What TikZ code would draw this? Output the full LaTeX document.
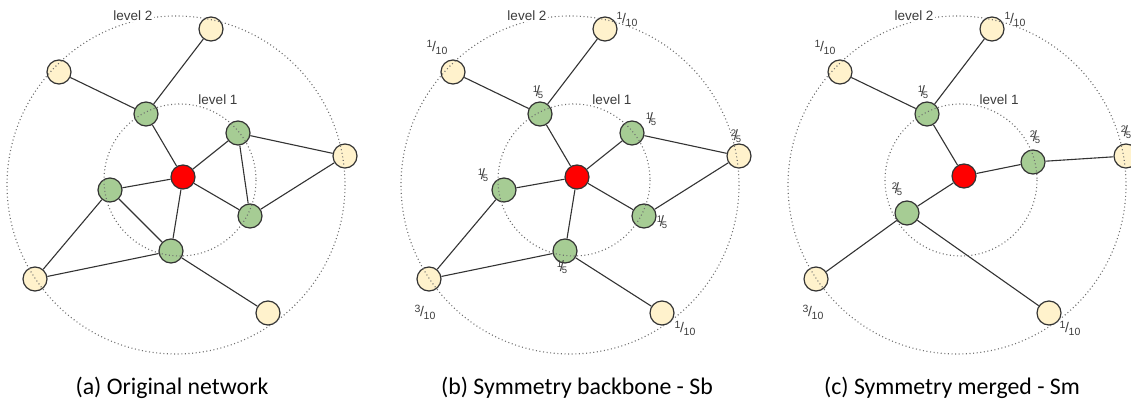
\documentclass[tikz,border=0pt]{standalone}
\usepackage{fontspec}
\usepackage{xcolor}
\usepackage{tikz}
\newfontfamily\capfont{Carlito}
\newfontfamily\lblfont{Liberation Sans}
\definecolor{nodegreen}{RGB}{166,204,148}
\definecolor{nodeyellow}{RGB}{255,242,204}
\definecolor{rootred}{RGB}{255,0,0}
\definecolor{linegray}{RGB}{51,51,51}
\definecolor{textgray}{RGB}{60,60,60}
\definecolor{ringgray}{RGB}{110,110,110}
% share labels: 1/10 style and 1/5 style
\newcommand{\tenths}[1]{\raisebox{4pt}{\fontsize{10.5}{11}\selectfont #1}\kern-0.3pt{\fontsize{14}{14}\selectfont/}\kern-0.3pt\raisebox{-3pt}{\fontsize{10.5}{11}\selectfont 10}}
\newcommand{\fifths}[1]{\raisebox{3.5pt}{\fontsize{9.5}{10}\selectfont #1}\kern-2.2pt{\fontsize{15}{15}\selectfont/}\kern-2.2pt\raisebox{-2pt}{\fontsize{9.5}{10}\selectfont 5}}

\begin{document}
\begin{tikzpicture}[x=1pt, y=-1pt,
      vtx/.style={circle, draw=linegray, line width=1.2pt, minimum size=24pt, inner sep=0pt},
      hub/.style={vtx, fill=rootred},
      near/.style={vtx, fill=nodegreen},
      far/.style={vtx, fill=nodeyellow},
      link/.style={draw=linegray, line width=1.1pt},
      ring/.style={draw=ringgray, line width=1.1pt, dash pattern=on 1pt off 2.6pt},
      lvl/.style={font=\lblfont\fontsize{13.5}{14}\selectfont, text=textgray, fill=white, inner sep=1pt},
      share/.style={font=\lblfont, text=textgray, inner sep=0pt},
      subcap/.style={font=\capfont\fontsize{23.8}{28}\selectfont}]
    \useasboundingbox (0,0) rectangle (1131,406);

    % (a) original network
    \node[hub] (a-r) at (183,177) {};
    \node[far] (a-yt) at (211,29) {};
    \node[far] (a-yl) at (59,72) {};
    \node[near] (a-gu) at (146,114) {};
    \node[near] (a-gru) at (238,133) {};
    \node[far] (a-yr) at (345,156) {};
    \node[near] (a-gl) at (110,190) {};
    \node[near] (a-grl) at (250,216) {};
    \node[near] (a-gb) at (171,251) {};
    \node[far] (a-ybl) at (35,279) {};
    \node[far] (a-ybr) at (268,313) {};
    \draw[link] (a-yt) -- (a-gu);
    \draw[link] (a-yl) -- (a-gu);
    \draw[link] (a-gu) -- (a-r);
    \draw[link] (a-r) -- (a-gru);
    \draw[link] (a-gru) -- (a-yr);
    \draw[link] (a-gru) -- (a-grl);
    \draw[link] (a-r) -- (a-grl);
    \draw[link] (a-grl) -- (a-yr);
    \draw[link] (a-r) -- (a-gl);
    \draw[link] (a-r) -- (a-gb);
    \draw[link] (a-gl) -- (a-ybl);
    \draw[link] (a-gl) -- (a-gb);
    \draw[link] (a-gb) -- (a-ybl);
    \draw[link] (a-gb) -- (a-ybr);

    % (b) symmetry backbone
    \begin{scope}[xshift=394pt]
    \node[hub] (b-r) at (183,177) {};
    \node[far] (b-yt) at (211,29) {};
    \node[far] (b-yl) at (59,72) {};
    \node[near] (b-gu) at (146,114) {};
    \node[near] (b-gru) at (238,133) {};
    \node[far] (b-yr) at (345,156) {};
    \node[near] (b-gl) at (110,190) {};
    \node[near] (b-grl) at (250,216) {};
    \node[near] (b-gb) at (171,251) {};
    \node[far] (b-ybl) at (35,279) {};
    \node[far] (b-ybr) at (268,313) {};
    \draw[link] (b-yt) -- (b-gu);
    \draw[link] (b-yl) -- (b-gu);
    \draw[link] (b-gu) -- (b-r);
    \draw[link] (b-r) -- (b-gru);
    \draw[link] (b-gru) -- (b-yr);
    \draw[link] (b-r) -- (b-grl);
    \draw[link] (b-grl) -- (b-yr);
    \draw[link] (b-r) -- (b-gl);
    \draw[link] (b-r) -- (b-gb);
    \draw[link] (b-gl) -- (b-ybl);
    \draw[link] (b-gb) -- (b-ybl);
    \draw[link] (b-gb) -- (b-ybr);
    \node[share] (b-yt-s) at (233,19) {\tenths{1}};
    \node[share] (b-yl-s) at (43,47) {\tenths{1}};
    \node[share] (b-gu-s) at (144,92) {\fifths{1}};
    \node[share] (b-gru-s) at (257,119) {\fifths{1}};
    \node[share] (b-yr-s) at (342,136) {\fifths{2}};
    \node[share] (b-gl-s) at (89,175) {\fifths{1}};
    \node[share] (b-grl-s) at (268,222) {\fifths{1}};
    \node[share] (b-gb-s) at (168,267) {\fifths{1}};
    \node[share] (b-ybl-s) at (31,312) {\tenths{3}};
    \node[share] (b-ybr-s) at (291,328) {\tenths{1}};
    \end{scope}

    % (c) symmetry merged
    \begin{scope}[xshift=781pt]
    \node[hub] (c-r) at (183,176) {};
    \node[far] (c-yt) at (211,29) {};
    \node[far] (c-yl) at (59,72) {};
    \node[near] (c-gu) at (146,114) {};
    \node[near] (c-gr) at (252,162) {};
    \node[far] (c-yr) at (345,156) {};
    \node[near] (c-gll) at (126,213) {};
    \node[far] (c-ybl) at (35,279) {};
    \node[far] (c-ybr) at (268,313) {};
    \draw[link] (c-yt) -- (c-gu);
    \draw[link] (c-yl) -- (c-gu);
    \draw[link] (c-gu) -- (c-r);
    \draw[link] (c-r) -- (c-gr);
    \draw[link] (c-gr) -- (c-yr);
    \draw[link] (c-r) -- (c-gll);
    \draw[link] (c-gll) -- (c-ybl);
    \draw[link] (c-gll) -- (c-ybr);
    \node[share] (c-yt-s) at (234,19) {\tenths{1}};
    \node[share] (c-yl-s) at (44,47) {\tenths{1}};
    \node[share] (c-gu-s) at (142,92) {\fifths{1}};
    \node[share] (c-gr-s) at (254,137) {\fifths{2}};
    \node[share] (c-yr-s) at (345,132) {\fifths{2}};
    \node[share] (c-gll-s) at (116,189) {\fifths{2}};
    \node[share] (c-ybl-s) at (32,312) {\tenths{3}};
    \node[share] (c-ybr-s) at (289,328) {\tenths{1}};
    \end{scope}

    % level rings, over the nodes
    \foreach \dx in {0,394,781} {
      \draw[ring] (180+\dx,180) circle[radius=76];
      \draw[ring] (176+\dx,185) circle[radius=169];
      \node[lvl] (lvtwo-\dx) at (133+\dx,16) {level 2};
      \node[lvl] (lvone-\dx) at (218+\dx,100) {level 1};
    }

    \node[subcap] (cap-a) at (172,388) {(a) Original network};
    \node[subcap] (cap-b) at (577,388) {(b) Symmetry backbone - Sb};
    \node[subcap] (cap-c) at (952,388) {(c) Symmetry merged - Sm};
  \end{tikzpicture}
\end{document}
